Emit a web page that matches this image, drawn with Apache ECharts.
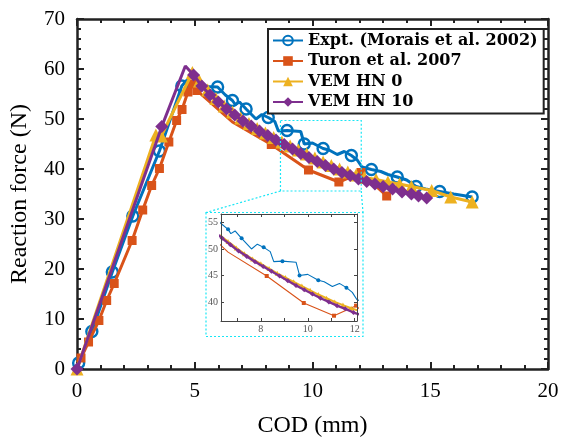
<!DOCTYPE html>
<html>
<head>
<meta charset="utf-8">
<script src="https://cdn.jsdelivr.net/npm/echarts@6/dist/echarts.min.js"></script>
<style>
  html, body { margin: 0; padding: 0; background: #fff; }
  #chart { width: 565px; height: 443px; }
</style>
</head>
<body>
<div id="chart"></div>
<script>
// Crack-opening displacement (mm) vs reaction force (N)

// Experiment (Morais et al. 2002); 1 = draw a marker at that point
const exptX = [0, 0.07, 0.63, 1.5, 2.37, 3.5, 4.45, 4.65, 5.0, 5.5, 5.97, 6.3, 6.6, 6.72, 6.9, 7.18, 7.6, 7.85, 8.12, 8.4, 8.55, 8.92, 9.5, 9.65, 10.0, 10.45, 10.7, 11.05, 11.35, 11.65, 11.9, 12.1, 12.5, 12.9, 13.2, 13.6, 14.0, 14.4, 14.8, 15.4, 16.0, 16.78];
const exptY = [0, 1.2, 7.5, 19.4, 30.6, 43.6, 56.6, 57.7, 57.2, 56.5, 56.4, 54.8, 53.7, 52.9, 53.4, 52.0, 50.0, 50.9, 50.3, 49.5, 47.6, 47.7, 47.5, 45.0, 45.2, 44.1, 43.8, 42.9, 43.5, 42.7, 41.8, 40.4, 39.9, 39.5, 38.9, 38.4, 37.8, 36.5, 36.0, 35.5, 35.0, 34.4];
const exptMark = [0, 1, 1, 1, 1, 1, 1, 0, 0, 0, 1, 0, 1, 0, 0, 1, 0, 0, 1, 0, 0, 1, 0, 1, 0, 1, 0, 0, 0, 1, 0, 0, 1, 0, 0, 1, 0, 1, 0, 1, 0, 1];

// Turon et al. 2007
const turonX = [0, 0.17, 0.49, 0.93, 1.26, 1.58, 2.34, 2.79, 3.17, 3.5, 3.9, 4.23, 4.46, 4.71, 4.88, 5.09, 6.6, 8.25, 9.83, 11.12, 12.06, 13.15];
const turonY = [0, 2.2, 5.4, 9.7, 13.7, 17.1, 25.7, 31.8, 36.7, 40.1, 45.4, 49.7, 51.9, 55.4, 57.0, 55.7, 49.4, 44.9, 39.8, 37.4, 39.3, 34.6];
const turonMark = [0, 1, 1, 1, 1, 1, 1, 1, 1, 1, 1, 1, 1, 1, 1, 1, 0, 1, 1, 1, 1, 1];

// VEM, HN 0
const vem0X = [0, 3.35, 3.58, 4.9, 5.2, 5.55, 5.9, 6.25, 6.6, 6.95, 7.3, 7.65, 8.0, 8.35, 8.7, 9.05, 9.4, 9.75, 10.1, 10.45, 10.8, 11.15, 11.5, 11.85, 12.2, 12.7, 13.2, 13.7, 14.2, 15.06, 15.87, 16.78];
const vem0Y = [0, 46.8, 46.6, 59.3, 57.6, 55.8, 54.1, 52.6, 51.4, 50.2, 49.1, 48.1, 47.2, 46.3, 45.4, 44.6, 43.8, 43.0, 42.2, 41.4, 40.7, 40.0, 39.4, 38.8, 38.3, 37.9, 37.4, 37.0, 36.5, 35.7, 34.4, 33.4];

// VEM, HN 10
const vem10X = [0, 3.6, 4.6, 4.95, 5.3, 5.65, 6.0, 6.35, 6.7, 7.05, 7.4, 7.75, 8.1, 8.45, 8.8, 9.15, 9.5, 9.85, 10.2, 10.55, 10.9, 11.25, 11.6, 11.95, 12.3, 12.65, 13.0, 13.4, 13.8, 14.2, 14.5, 14.85];
const vem10Y = [0, 48.5, 60.6, 58.8, 56.6, 54.8, 53.4, 52.0, 50.8, 49.6, 48.6, 47.6, 46.7, 45.8, 44.9, 44.0, 43.1, 42.3, 41.5, 40.7, 40.0, 39.3, 38.7, 38.0, 37.5, 37.0, 36.5, 36.0, 35.4, 35.0, 34.6, 34.2];
const vem10Mark = [1, 1, 0, 1, 1, 1, 1, 1, 1, 1, 1, 1, 1, 1, 1, 1, 1, 1, 1, 1, 1, 1, 1, 1, 1, 1, 1, 1, 1, 1, 1, 1];

const seriesNames = ['Expt. (Morais et al. 2002)', 'Turon et al. 2007', 'VEM HN 0', 'VEM HN 10'];
const colors = ['#0072BD', '#D95319', '#EDB120', '#7E2F8E'];

// Axis ranges and ticks
const xTicks = [0, 5, 10, 15, 20];
const yTicks = [0, 10, 20, 30, 40, 50, 60, 70];
const insetXRange = [6.3, 12.1];
const insetYRange = [36.4, 56.6];
const insetXLabels = [8, 10, 12];
const insetYLabels = [40, 45, 50, 55];
// Region highlighted on the main axes
const zoomBoxX = [8.64, 12.07];
const zoomBoxY = [35.6, 49.7];

const SERIF = '"Liberation Serif", "DejaVu Serif", serif';
const LEGEND_FONT = '"DejaVu Serif", serif';
const AXIS_COLOR = '#222';
const CYAN = '#19e6f5';

const MAIN = { left: 70, top: 19, width: 478, height: 357 };
const INSET = { left: 221, top: 214, width: 136, height: 107 };

function build(xs, ys, marks) {
  return xs.map((x, i) => {
    const item = { value: [x, ys[i]] };
    if (marks && !marks[i]) item.symbol = 'none';
    return item;
  });
}

const symbols = ['circle', 'rect', 'triangle', 'diamond'];
const mainSizes = [11, 9, 13, 13];
const insetSizes = [4, 4, 5, 5];
const insetWidths = [1.1, 1.1, 2, 2.4];
const dataSets = [
  [exptX, exptY, exptMark],
  [turonX, turonY, turonMark],
  [vem0X, vem0Y, null],
  [vem10X, vem10Y, vem10Mark]
];

const series = [];
dataSets.forEach((d, k) => {
  const hollow = k === 0;
  series.push({
    name: seriesNames[k], type: 'line', xAxisIndex: 0, yAxisIndex: 0,
    data: build(d[0], d[1], d[2]), symbol: symbols[k], symbolSize: mainSizes[k],
    showAllSymbol: true, z: 2 + k * 0.01,
    lineStyle: { color: colors[k], width: 3 },
    itemStyle: hollow
      ? { color: 'rgba(255,255,255,0)', borderColor: colors[k], borderWidth: 2.4 }
      : { color: colors[k], borderWidth: 0 }
  });
});
dataSets.forEach((d, k) => {
  series.push({
    name: seriesNames[k], type: 'line', xAxisIndex: 2, yAxisIndex: 2,
    data: build(d[0], d[1], d[2]), symbol: symbols[k], symbolSize: insetSizes[k],
    showAllSymbol: true, clip: true, z: 11 + k * 0.01,
    lineStyle: { color: colors[k], width: insetWidths[k] },
    itemStyle: { color: colors[k], borderWidth: 0 }
  });
});

function mainAxis(extra) {
  return Object.assign({
    type: 'value', gridIndex: 0,
    axisLine: { show: true, onZero: false, lineStyle: { color: AXIS_COLOR, width: 2.5 } },
    axisTick: { show: true, inside: true, length: 7, lineStyle: { color: AXIS_COLOR, width: 2 } },
    minorTick: { show: true, splitNumber: 5, length: 4, lineStyle: { color: AXIS_COLOR, width: 2 } },
    splitLine: { show: false },
    axisLabel: { show: false }
  }, extra);
}
function insetAxis(extra) {
  return Object.assign({
    type: 'value', gridIndex: 1, z: 12,
    axisLine: { show: true, onZero: false, lineStyle: { color: '#444', width: 1 } },
    splitLine: { show: false }
  }, extra);
}
const labelStyle = { show: true, fontFamily: SERIF, fontSize: 21, color: '#000' };
const nameStyle = { fontFamily: SERIF, fontSize: 24, color: '#000' };
const insetLabel = { show: true, fontFamily: SERIF, fontSize: 10, color: '#555', margin: 3 };
const insetTick = (vals) => ({ show: true, inside: true, length: 3, customValues: vals, lineStyle: { color: '#444' } });

const option = {
  animation: false,
  backgroundColor: '#fff',
  grid: [
    Object.assign({ containLabel: false }, MAIN),
    Object.assign({ containLabel: false, z: 10 }, INSET)
  ],
  legend: {
    data: seriesNames, orient: 'vertical', left: 268, top: 29,
    itemWidth: 30, itemHeight: 12, itemGap: 3.5,
    backgroundColor: '#fff', borderColor: AXIS_COLOR, borderWidth: 2, padding: [3, 6, 3, 4],
    textStyle: { fontFamily: LEGEND_FONT, fontWeight: 'bold', fontSize: 16, lineHeight: 17, color: '#000' },
    selectedMode: false, z: 20
  },
  xAxis: [
    mainAxis({ position: 'bottom', min: xTicks[0], max: xTicks[xTicks.length - 1], interval: xTicks[1] - xTicks[0],
      axisLabel: Object.assign({ margin: 12 }, labelStyle),
      name: 'COD (mm)', nameLocation: 'middle', nameGap: 45, nameTextStyle: nameStyle }),
    mainAxis({ position: 'top', min: xTicks[0], max: xTicks[xTicks.length - 1], interval: xTicks[1] - xTicks[0] }),
    insetAxis({ position: 'bottom', min: insetXRange[0], max: insetXRange[1],
      axisTick: insetTick([7, 8, 9, 10, 11, 12]),
      axisLabel: Object.assign({ customValues: insetXLabels }, insetLabel) }),
    insetAxis({ position: 'top', min: insetXRange[0], max: insetXRange[1],
      axisTick: insetTick([7, 8, 9, 10, 11, 12]), axisLabel: { show: false } })
  ],
  yAxis: [
    mainAxis({ position: 'left', min: yTicks[0], max: yTicks[yTicks.length - 1], interval: yTicks[1] - yTicks[0],
      axisLabel: Object.assign({ margin: 12 }, labelStyle),
      name: 'Reaction force (N)', nameLocation: 'middle', nameGap: 45, nameTextStyle: nameStyle }),
    mainAxis({ position: 'right', min: yTicks[0], max: yTicks[yTicks.length - 1], interval: yTicks[1] - yTicks[0] }),
    insetAxis({ position: 'left', min: insetYRange[0], max: insetYRange[1],
      axisTick: insetTick(insetYLabels),
      axisLabel: Object.assign({ customValues: insetYLabels }, insetLabel) }),
    insetAxis({ position: 'right', min: insetYRange[0], max: insetYRange[1],
      axisTick: insetTick(insetYLabels), axisLabel: { show: false } })
  ],
  series: series
};

const chart = echarts.init(document.getElementById('chart'), null, { renderer: 'canvas' });
chart.setOption(option);

// Inset frame, highlighted region and the leader lines between them
const frame = {
  x: INSET.left - 15, y: INSET.top - 1.5,
  w: INSET.width + 21, h: INSET.height + 17
};
const bl = chart.convertToPixel({ gridIndex: 0 }, [zoomBoxX[0], zoomBoxY[0]]);
const tr = chart.convertToPixel({ gridIndex: 0 }, [zoomBoxX[1], zoomBoxY[1]]);
const dotted = { stroke: CYAN, lineWidth: 1.2, lineDash: [2, 2], fill: null };
chart.setOption({
  graphic: [
    { type: 'rect', z: 10, shape: { x: frame.x, y: frame.y, width: frame.w, height: frame.h },
      style: { fill: '#fff', stroke: CYAN, lineWidth: 1.2, lineDash: [2, 2] } },
    { type: 'rect', z: 10, shape: { x: bl[0], y: tr[1], width: tr[0] - bl[0], height: bl[1] - tr[1] }, style: dotted },
    { type: 'line', z: 10, shape: { x1: bl[0], y1: bl[1], x2: frame.x, y2: frame.y }, style: dotted },
    { type: 'line', z: 10, shape: { x1: tr[0], y1: bl[1], x2: frame.x + frame.w, y2: frame.y }, style: dotted }
  ]
});
</script>
</body>
</html>
